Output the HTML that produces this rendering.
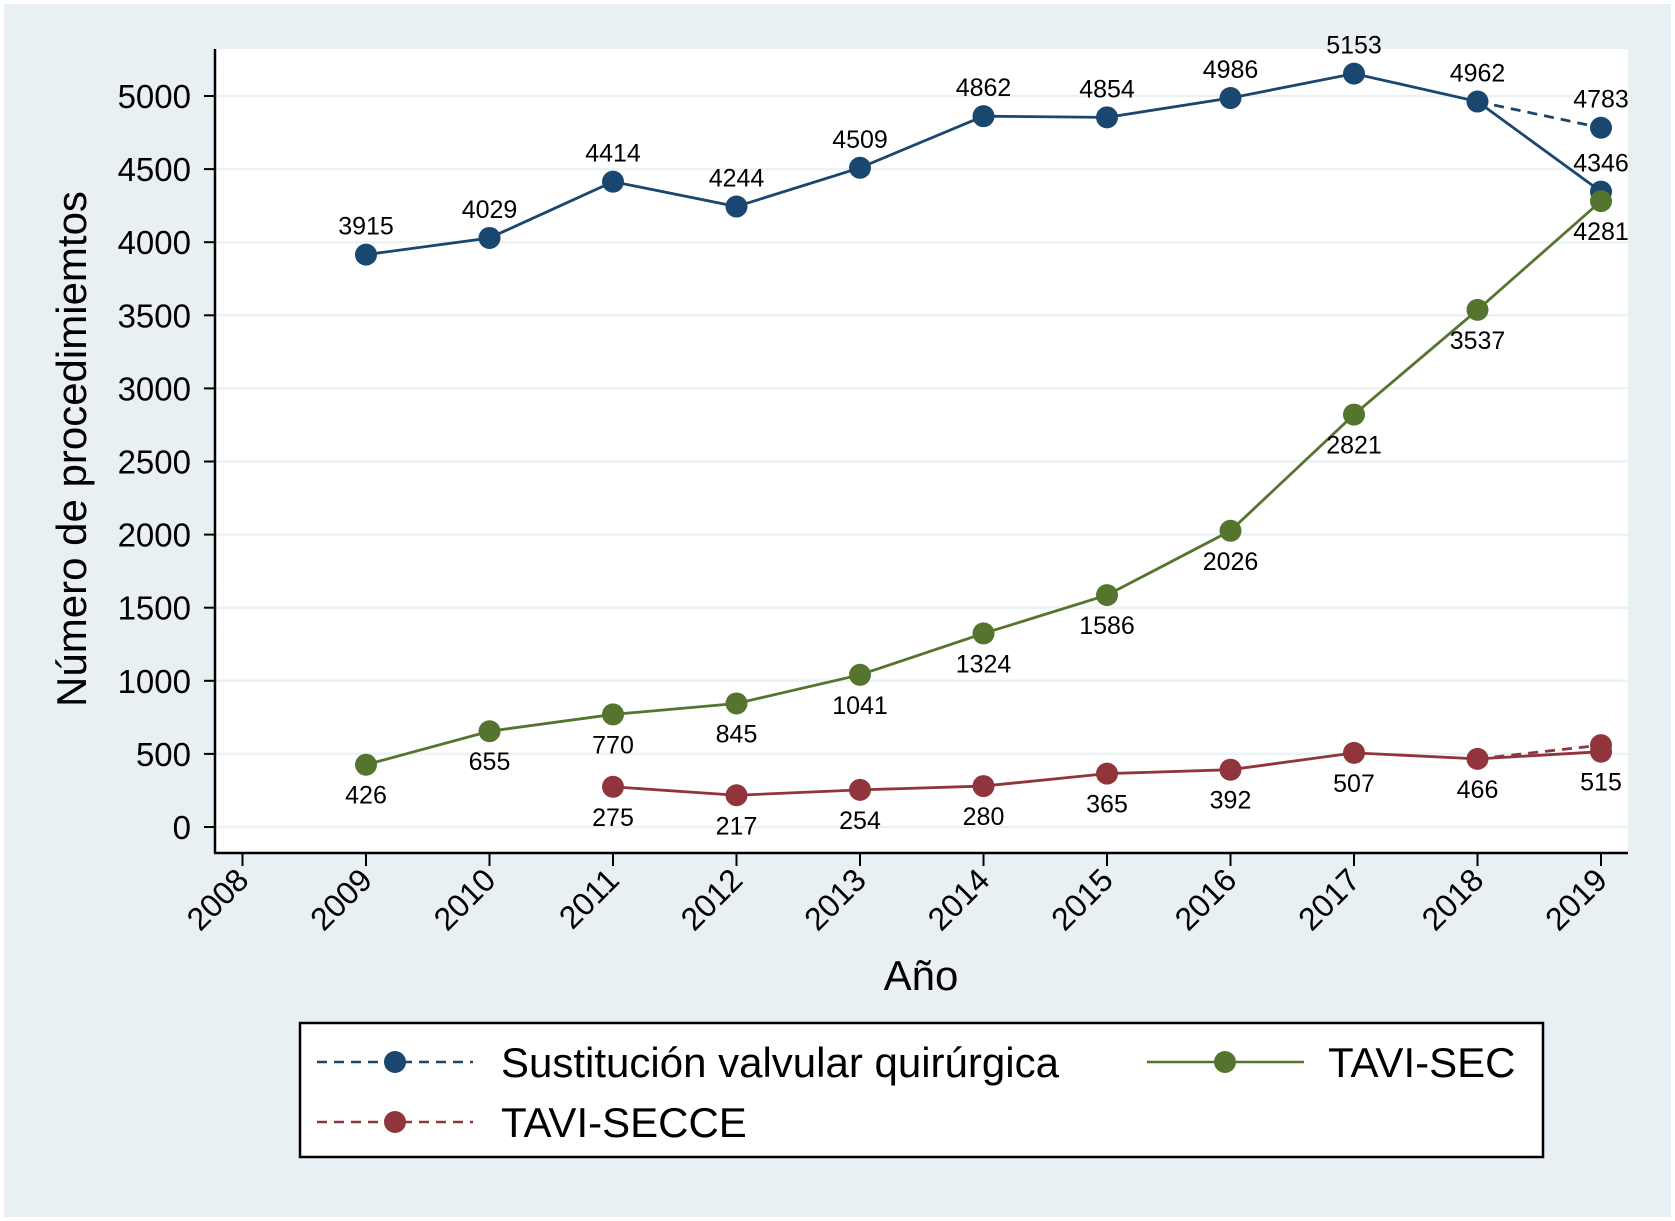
<!DOCTYPE html>
<html><head><meta charset="utf-8"><style>
html,body{margin:0;padding:0;background:#fff}
svg{display:block;font-family:"Liberation Sans",sans-serif}
</style></head><body>
<svg id="chart" width="1675" height="1221" viewBox="0 0 1675 1221">
<rect x="4" y="4" width="1667" height="1213" fill="#e9f0f3"/>
<rect x="215" y="49" width="1413" height="804" fill="#ffffff"/>
<g id="grid"></g>
<g id="axes"></g>
<g id="series"></g>
<text x="86" y="449" transform="rotate(-90 86 449)" text-anchor="middle" font-size="42" fill="#000">Número de procedimiemtos</text>
<text x="921" y="990" text-anchor="middle" font-size="42" fill="#000">Año</text>
<g>
<rect x="300" y="1023" width="1243" height="134" fill="#fff" stroke="#000" stroke-width="2.5"/>
<g>
<line x1="317" y1="1062" x2="473" y2="1062" stroke="#1a476f" stroke-width="2.5" stroke-dasharray="10,7"/>
<circle cx="395" cy="1062" r="11" fill="#1a476f"/>
<text x="501" y="1077" font-size="42">Sustitución valvular quirúrgica</text></g>
<g>
<line x1="1147" y1="1062" x2="1304" y2="1062" stroke="#55752f" stroke-width="2.5"/>
<circle cx="1225" cy="1062" r="11" fill="#55752f"/>
<text x="1328" y="1077" font-size="42">TAVI-SEC</text></g>
<g>
<line x1="317" y1="1122" x2="473" y2="1122" stroke="#90353b" stroke-width="2.5" stroke-dasharray="10,7"/>
<circle cx="395" cy="1122" r="11" fill="#90353b"/>
<text x="501" y="1137" font-size="42">TAVI-SECCE</text></g>
</g>
</svg>
<script>
const years=[2009,2010,2011,2012,2013,2014,2015,2016,2017,2018,2019];
const surgical=[3915,4029,4414,4244,4509,4862,4854,4986,5153,4962,4346];
const surgicalAlt=[4962,4783];
const taviSec=[426,655,770,845,1041,1324,1586,2026,2821,3537,4281];
const secceYears=[2011,2012,2013,2014,2015,2016,2017,2018,2019];
const taviSecce=[275,217,254,280,365,392,507,466,515];
const secceAlt=[466,560];
const yTicks=[0,500,1000,1500,2000,2500,3000,3500,4000,4500,5000];
const xTicks=[2008,2009,2010,2011,2012,2013,2014,2015,2016,2017,2018,2019];
const NS='http://www.w3.org/2000/svg';
const X=y=>242.5+(y-2008)*123.5;
const Y=v=>827-v*(731/5000);
function mk(tag,attrs,parent,text){const e=document.createElementNS(NS,tag);for(const k in attrs)e.setAttribute(k,attrs[k]);if(text!==undefined)e.textContent=text;parent.appendChild(e);return e;}
const grid=document.getElementById('grid'),axes=document.getElementById('axes'),ser=document.getElementById('series');
yTicks.forEach(t=>{
 const g=mk('line',{x1:215,x2:1628,y1:Y(t),y2:Y(t),stroke:'#eaf2f3','stroke-width':2.5},grid);
 
 
 const tk=mk('line',{x1:204,x2:215,y1:Y(t),y2:Y(t),stroke:'#000','stroke-width':2},axes);
 
 
 const l=mk('text',{x:191,y:Y(t)+12,'text-anchor':'end','font-size':33},axes,String(t));
 
 
});
const ax=mk('line',{x1:215,x2:215,y1:49,y2:853,stroke:'#000','stroke-width':2.5},axes);


const bx=mk('line',{x1:214,x2:1628,y1:853,y2:853,stroke:'#000','stroke-width':2.5},axes);


xTicks.forEach(t=>{
 const tk=mk('line',{x1:X(t),x2:X(t),y1:853,y2:866,stroke:'#000','stroke-width':2},axes);
 
 
 const l=mk('text',{x:X(t)+8,y:882,'text-anchor':'end','font-size':32,transform:`rotate(-45 ${X(t)+8} 882)`},axes,String(t));
 
 
});
function line(xs,vs,color,dash,name){
 const p=mk('polyline',{points:xs.map((x,i)=>X(x)+','+Y(vs[i])).join(' '),fill:'none',stroke:color,'stroke-width':2.8,'stroke-dasharray':dash||'none'},ser);
 
 
}
function pts(xs,vs,color,name,labelDy,labels){
 xs.forEach((x,i)=>{
  const c=mk('circle',{cx:X(x),cy:Y(vs[i]),r:11,fill:color},ser);
  
  
  if(labels){const t=mk('text',{x:X(x),y:Y(vs[i])+labelDy,'text-anchor':'middle','font-size':25},ser,String(vs[i]));
  
  }
 });
}
line([2018,2019],surgicalAlt,'#1a476f','10,7','surgical-alt-line');
line(years,surgical,'#1a476f',null,'surgical-line');
line([2018,2019],secceAlt,'#90353b','10,7','secce-alt-line');
line(secceYears,taviSecce,'#90353b',null,'secce-line');
line(years,taviSec,'#55752f',null,'tavi-sec-line');
pts([2019],[surgicalAlt[1]],'#1a476f','surgical-alt',-20,true);
pts(years,surgical,'#1a476f','surgical',-20,true);
pts([2019],[secceAlt[1]],'#90353b','secce-alt',0,false);
pts(secceYears,taviSecce,'#90353b','secce',39,true);
pts(years,taviSec,'#55752f','tavi-sec',39,true);
</script>
</body></html>
